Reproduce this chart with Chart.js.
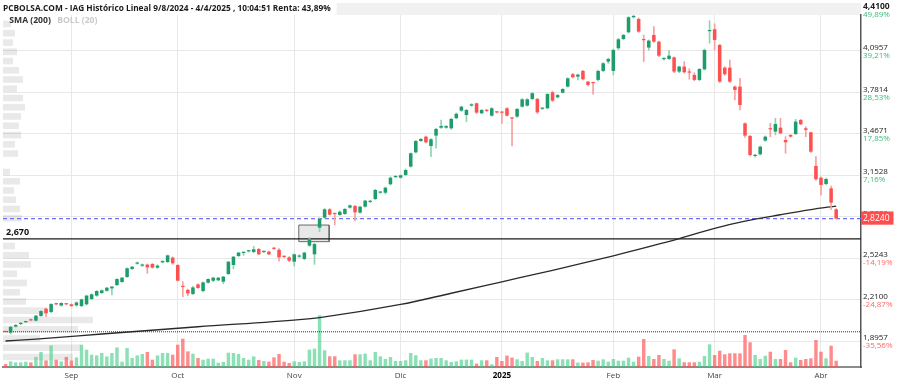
<!DOCTYPE html>
<html lang="es">
<head>
<meta charset="utf-8">
<title>IAG Histórico</title>
<script src="https://cdn.jsdelivr.net/npm/chart.js@4.4.1/dist/chart.umd.min.js"></script>
<style>
html,body{margin:0;padding:0;background:#fff;}
#c{display:block;}
</style>
</head>
<body>
<canvas id="c" width="902" height="386"></canvas>
<script>
// ---------------- DATA ----------------
const titleText = 'PCBOLSA.COM - IAG Histórico Lineal 9/8/2024 - 4/4/2025 , 10:04:51 Renta: 43,89%';
const legendLabels = ['SMA (200)', 'BOLL (20)'];

// daily candles, 14/8/2024 .. 4/4/2025 (index = trading day)
const opens = [1.968,1.959,2.005,2.025,2.038,2.058,2.050,2.086,2.141,2.116,
2.178,2.165,2.178,2.174,2.166,2.161,2.174,2.214,2.240,2.260,
2.277,2.295,2.320,2.343,2.381,2.442,2.482,2.467,2.475,2.480,
2.452,2.492,2.495,2.528,2.472,2.310,2.283,2.252,2.325,2.275,
2.338,2.353,2.356,2.346,2.404,2.472,2.540,2.563,2.575,2.571,
2.593,2.570,2.573,2.597,2.588,2.537,2.530,2.497,2.535,2.518,
2.619,2.553,2.755,2.831,2.894,2.862,2.851,2.859,2.907,2.919,
2.869,2.914,2.950,2.972,3.020,3.020,3.084,3.138,3.134,3.154,
3.218,3.326,3.412,3.445,3.374,3.453,3.513,3.513,3.508,3.585,
3.642,3.609,3.680,3.698,3.622,3.645,3.604,3.632,3.630,3.660,
3.586,3.597,3.672,3.680,3.731,3.731,3.656,3.660,3.781,3.743,
3.778,3.824,3.918,3.900,3.943,3.862,3.855,3.875,3.943,4.014,
3.943,4.115,4.185,4.236,4.350,4.337,4.180,4.120,4.216,4.165,
4.032,4.034,4.046,3.938,3.976,3.934,3.913,3.875,3.955,4.244,
4.259,4.140,3.968,3.968,3.824,3.824,3.546,3.450,3.298,3.311,
3.415,3.504,3.483,3.513,3.420,3.458,3.465,3.571,3.508,3.478,
3.223,3.134,3.086,3.053,2.894];
const highs = [1.972,2.008,2.022,2.035,2.046,2.064,2.090,2.126,2.146,2.180,
2.184,2.186,2.182,2.178,2.194,2.214,2.244,2.254,2.278,2.284,
2.302,2.310,2.368,2.378,2.450,2.462,2.495,2.480,2.480,2.484,
2.475,2.505,2.548,2.534,2.476,2.346,2.290,2.310,2.330,2.345,
2.368,2.380,2.378,2.386,2.500,2.538,2.568,2.572,2.585,2.614,
2.598,2.580,2.578,2.606,2.596,2.542,2.535,2.558,2.550,2.570,
2.682,2.636,2.830,2.900,2.900,2.866,2.882,2.900,2.928,2.924,
2.918,2.962,2.962,3.046,3.030,3.064,3.140,3.150,3.156,3.200,
3.322,3.416,3.432,3.450,3.430,3.508,3.571,3.530,3.585,3.625,
3.678,3.652,3.695,3.700,3.652,3.650,3.665,3.636,3.635,3.665,
3.590,3.660,3.733,3.734,3.780,3.735,3.665,3.772,3.790,3.765,
3.810,3.892,3.925,3.920,3.948,3.865,3.858,3.950,4.006,4.040,
4.110,4.190,4.220,4.355,4.366,4.345,4.215,4.178,4.279,4.170,
4.045,4.097,4.050,3.980,4.014,3.960,3.930,3.962,4.110,4.324,
4.300,4.145,3.975,4.026,3.830,3.887,3.550,3.455,3.310,3.374,
3.450,3.546,3.584,3.584,3.445,3.460,3.576,3.576,3.520,3.480,
3.293,3.140,3.130,3.071,2.900];
const lows = [1.960,1.949,2.000,2.020,2.034,2.048,2.046,2.082,2.080,2.110,
2.170,2.160,2.170,2.158,2.160,2.156,2.168,2.210,2.235,2.256,
2.272,2.245,2.316,2.340,2.378,2.438,2.478,2.460,2.409,2.448,
2.446,2.488,2.490,2.478,2.350,2.232,2.240,2.250,2.295,2.268,
2.334,2.345,2.352,2.330,2.400,2.442,2.536,2.545,2.570,2.566,
2.550,2.565,2.550,2.590,2.502,2.528,2.498,2.464,2.530,2.512,
2.612,2.477,2.725,2.826,2.850,2.775,2.848,2.855,2.903,2.806,
2.865,2.910,2.945,2.968,3.015,3.010,3.078,3.135,3.130,3.150,
3.214,3.320,3.408,3.398,3.293,3.357,3.508,3.508,3.500,3.580,
3.636,3.559,3.676,3.620,3.618,3.635,3.600,3.624,3.546,3.600,
3.374,3.590,3.668,3.675,3.725,3.620,3.650,3.655,3.710,3.738,
3.775,3.820,3.890,3.875,3.875,3.830,3.766,3.868,3.937,4.000,
3.913,4.105,4.180,4.230,4.345,4.235,4.014,4.100,4.160,4.052,
4.025,4.030,3.930,3.930,3.925,3.880,3.868,3.868,3.950,4.153,
4.102,3.855,3.910,3.855,3.723,3.647,3.440,3.298,3.290,3.305,
3.410,3.445,3.458,3.465,3.319,3.440,3.460,3.535,3.445,3.325,
3.115,3.003,3.080,2.894,2.822];
const closes = [1.964,2.004,2.017,2.030,2.042,2.052,2.088,2.123,2.106,2.176,
2.174,2.184,2.174,2.161,2.188,2.212,2.240,2.250,2.275,2.280,
2.300,2.308,2.366,2.376,2.447,2.459,2.490,2.475,2.454,2.452,
2.467,2.502,2.545,2.485,2.353,2.305,2.257,2.302,2.298,2.340,
2.366,2.376,2.376,2.384,2.497,2.535,2.566,2.568,2.581,2.591,
2.553,2.574,2.553,2.594,2.530,2.533,2.505,2.553,2.543,2.566,
2.667,2.631,2.823,2.894,2.854,2.858,2.876,2.897,2.924,2.871,
2.914,2.960,2.958,3.041,3.025,3.058,3.134,3.142,3.152,3.192,
3.319,3.412,3.427,3.402,3.425,3.503,3.526,3.525,3.579,3.618,
3.672,3.647,3.690,3.627,3.647,3.640,3.660,3.628,3.626,3.604,
3.582,3.655,3.728,3.728,3.774,3.629,3.660,3.768,3.718,3.760,
3.806,3.887,3.895,3.915,3.880,3.837,3.850,3.943,4.001,4.034,
4.102,4.183,4.216,4.350,4.360,4.241,4.176,4.173,4.165,4.059,
4.036,4.059,3.938,3.976,3.933,3.930,3.875,3.958,4.102,4.249,
4.178,3.862,3.918,3.862,3.799,3.685,3.453,3.306,3.302,3.369,
3.445,3.500,3.541,3.470,3.402,3.445,3.559,3.539,3.496,3.331,
3.122,3.079,3.124,2.945,2.824];
// daily volume (millions of shares, estimated)
const volumes = [3.0,5.6,4.6,4.6,5.3,4.6,10.0,15.0,6.6,21.6,
7.3,5.6,10.0,6.6,9.6,22.3,17.3,12.3,11.6,14.0,
10.6,14.0,19.6,5.3,19.0,9.0,11.6,13.0,15.0,7.3,
11.6,14.0,14.0,12.3,22.3,28.3,15.6,13.3,9.0,7.3,
8.3,8.3,4.3,5.0,14.3,14.0,13.0,9.0,7.3,10.6,
7.0,6.0,5.3,9.6,13.0,5.3,4.0,5.7,5.0,5.7,
17.4,18.4,51.7,16.7,10.7,10.7,6.7,6.7,6.7,12.7,
12.7,13.4,6.7,15.0,10.7,8.0,10.0,6.0,6.0,6.7,
14.0,11.7,6.7,6.7,8.4,9.0,9.0,6.7,5.0,5.7,
7.4,7.4,7.4,3.4,6.7,6.7,2.7,10.0,6.0,11.4,
9.4,7.7,6.0,14.4,10.0,6.0,9.0,6.7,6.7,7.7,
7.7,7.7,7.7,4.4,4.4,4.6,7.0,6.3,7.7,5.3,
8.0,6.3,6.3,9.3,5.3,10.3,28.0,11.0,8.0,12.0,
8.0,6.3,17.7,8.7,4.7,4.7,4.7,5.3,11.0,22.7,
12.0,16.3,12.7,13.7,13.7,13.7,32.0,24.7,12.0,8.0,
11.3,15.3,8.0,8.0,17.0,4.7,9.3,7.0,8.0,8.7,
27.0,15.3,8.7,21.3,6.3];

// SMA(200) read at a few days
const smaIdx = [0,6,19,38,58,62,78,88,98,108,115,120,133,140,146,153,159,164];
const smaVal = [1.896,1.911,1.949,2.004,2.058,2.074,2.173,2.258,2.345,2.432,2.495,2.542,2.672,2.750,2.804,2.853,2.892,2.919];

// volume-at-price profile (price level, relative volume)
const profilePrices = [1.775,1.845,1.915,1.985,2.055,2.126,2.196,2.266,2.336,2.406,2.476,2.546,2.616,2.686,2.756,2.827,2.897,2.967,3.037,3.107,3.177,3.247,3.317,3.387,3.457,3.528,3.598,3.668,3.738,3.808,3.878,3.948,4.018,4.088,4.158,4.229,4.299];
const profileVol = [70,78,37,75,90,43,23,17,24,14,28,26,12,0,0,19,17,13,11,17,7,0,15,12,18,16,18,22,20,14,20,16,10,14,10,12,8];

// x-axis month ticks (trading-day index of first session of each month)
const monthTickIdx = [13,34,57,78,98,120,140,161];
const monthTickLabels = ['Sep','Oct','Nov','Dic','2025','Feb','Mar','Abr'];

// price axis ticks
const priceTicks = [4.41,4.0957,3.7814,3.4671,3.1528,2.8386,2.5243,2.21,1.8957];
const priceTickLabels = ['4,4100','4,0957','3,7814','3,4671','3,1528','2,8386','2,5243','2,2100','1,8957'];
const pctTickLabels = ['49,89%','39,21%','28,53%','17,85%','7,16%','-3,52%','-14,19%','-24,87%','-35,56%'];

// reference levels
const lastPrice = 2.824, lastPriceLabel = '2,8240';
const supportLevel = 2.670, supportLabel = '2,670';
const lowLevel = 1.966;
const gapIdx = [57.9, 63.9];
const gapPrices = [2.649, 2.775];

// ---------------- CHART ----------------
const FONT = "'Open Sans', 'Noto Sans', sans-serif";
const xMin = -0.5, xMax = 168.9;
const yMin = 1.699, yMax = 4.367;
const idx = closes.map((_, i) => i);
const isUp = i => closes[i] >= opens[i];

const topBand = {
  id: 'topBand',
  beforeDraw(chart) {
    const {ctx, chartArea} = chart;
    ctx.save();
    ctx.font = 'bold 8.3px ' + FONT;
    const tw = ctx.measureText(titleText).width;
    const x0 = chartArea.left + tw + 6;
    ctx.fillStyle = '#f1f1f1';
    ctx.fillRect(x0, 3, chartArea.right - x0, chartArea.top - 3);
    ctx.restore();
  }
};
const legendOverlay = {
  id: 'legendOverlay',
  afterInit(chart) {
    const lg = chart.legend;
    if (!lg) return;
    const fit = lg.fit;
    lg.fit = function () { fit.call(this); this.height = 0; };
  },
  afterLayout(chart) {
    const lg = chart.legend;
    if (!lg) return;
    lg.top = chart.chartArea.top + 1;
    lg.height = 14;
    lg.bottom = lg.top + 14;
  }
};

const hline = (level) => [{x: xMin, y: level}, {x: xMax, y: level}];
const fixedTicks = (vals) => (s) => { s.ticks = vals.map(v => ({value: v})); };
const overlayAxis = (vals, labels, extra) => Object.assign({
  type: 'linear', position: 'left', min: yMin, max: yMax, bounds: 'data', beginAtZero: false,
  afterBuildTicks: fixedTicks(vals),
  afterFit: s => { s.width = 0; s.paddingTop = 0; s.paddingBottom = 0; s.paddingLeft = 0; s.paddingRight = 0; },
  grid: {display: false, drawTicks: false},
  border: {display: false}
}, extra, {ticks: Object.assign({mirror: true, crossAlign: 'near', autoSkip: false,
  callback: (v, i) => labels[i]}, extra.ticks)});

new Chart(document.getElementById('c'), {
  type: 'bar',
  data: {
    datasets: [
      { // candle bodies
        type: 'bar', label: 'IAG', order: 0, xAxisID: 'x', yAxisID: 'y',
        data: idx.map(i => ({x: i, y: [opens[i], closes[i]]})),
        backgroundColor: c => isUp(c.dataIndex) ? '#1f9c6c' : '#ff5050',
        barPercentage: 0.7, categoryPercentage: 1, grouped: false, minBarLength: 1.2
      },
      { // wicks
        type: 'bar', label: 'HL', order: 1, xAxisID: 'x', yAxisID: 'y',
        data: idx.map(i => ({x: i, y: [lows[i], highs[i]]})),
        backgroundColor: c => isUp(c.dataIndex) ? '#8fd3b2' : '#f7a0a0',
        barThickness: 1, grouped: false
      },
      { // SMA 200
        type: 'line', label: legendLabels[0], order: 2, xAxisID: 'x', yAxisID: 'y',
        data: smaIdx.map((x, k) => ({x, y: smaVal[k]})),
        borderColor: '#2a2a2a', borderWidth: 1.3, pointRadius: 0, cubicInterpolationMode: 'monotone', fill: false
      },
      {
        type: 'line', label: 'soporte', order: 3, xAxisID: 'x', yAxisID: 'y',
        data: hline(supportLevel), borderColor: '#1a1a1a', borderWidth: 1.2, pointRadius: 0, fill: false
      },
      {
        type: 'line', label: 'último', order: 3, xAxisID: 'x', yAxisID: 'y',
        data: hline(lastPrice), borderColor: '#6f6fff', borderWidth: 1.3, borderDash: [4, 3], pointRadius: 0, fill: false
      },
      {
        type: 'line', label: 'mínimo', order: 3, xAxisID: 'x', yAxisID: 'y',
        data: hline(lowLevel), borderColor: '#333', borderWidth: 1, borderDash: [1, 1], pointRadius: 0, fill: false
      },
      { // price gap box
        type: 'line', label: 'hueco', order: 4, xAxisID: 'x', yAxisID: 'y',
        data: [{x: gapIdx[0], y: gapPrices[0]}, {x: gapIdx[0], y: gapPrices[1]}, {x: gapIdx[1], y: gapPrices[1]},
               {x: gapIdx[1], y: gapPrices[0]}, {x: gapIdx[0], y: gapPrices[0]}],
        borderColor: '#6a6a6a', borderWidth: 1, backgroundColor: 'rgba(190,190,190,0.35)', fill: 'shape', pointRadius: 0, tension: 0
      },
      { // volume
        type: 'bar', label: 'Volumen', order: 5, xAxisID: 'x', yAxisID: 'yVol',
        data: idx.map(i => ({x: i, y: volumes[i]})),
        backgroundColor: c => isUp(c.dataIndex) ? 'rgba(70,205,135,0.62)' : 'rgba(255,85,85,0.68)',
        barPercentage: 0.68, categoryPercentage: 1, grouped: false
      },
      { // volume profile
        type: 'bar', label: 'Perfil', order: 6, indexAxis: 'y', xAxisID: 'xProf', yAxisID: 'yProf',
        data: profilePrices.map((p, k) => ({x: profileVol[k], y: p})),
        backgroundColor: 'rgba(0,0,0,0.085)', barPercentage: 0.72, categoryPercentage: 1, grouped: false
      }
    ]
  },
  options: {
    responsive: false, animation: false, devicePixelRatio: 1,
    layout: {padding: {left: 3, right: 0, top: 0, bottom: 0}},
    plugins: {
      title: {display: true, text: titleText, align: 'start', color: '#1a1a1a',
        font: {family: FONT, size: 8.3, weight: 'bold', lineHeight: 12 / 8.3}, padding: {top: 3, bottom: 0}},
      legend: {display: true, position: 'top', align: 'start',
        labels: {boxWidth: 2, boxHeight: 0, padding: 0, font: {family: FONT, size: 8.6, weight: 'bold'},
          generateLabels: () => legendLabels.map((t, k) => ({text: t, fontColor: k === 0 ? '#333' : '#cacaca',
            fillStyle: 'rgba(0,0,0,0)', strokeStyle: 'rgba(0,0,0,0)', lineWidth: 0, hidden: false, datasetIndex: 2}))}},
      tooltip: {enabled: false}
    },
    scales: {
      x: {
        type: 'linear', position: 'bottom', min: xMin, max: xMax, offset: false, bounds: 'data',
        afterBuildTicks: fixedTicks(monthTickIdx),
        afterFit: s => { s.height = 19; s.paddingLeft = 0; s.paddingRight = 0; },
        ticks: {autoSkip: false, maxRotation: 0, padding: 4,
          callback: v => monthTickLabels[monthTickIdx.indexOf(v)] || '',
          color: c => /^\d+$/.test(monthTickLabels[c.index] || '') ? '#000' : '#444',
          font: c => ({family: FONT, size: 8, weight: /^\d+$/.test(monthTickLabels[c.index] || '') ? 'bold' : 'normal'})},
        grid: {color: '#e8e8e8', drawTicks: false, offset: false},
        border: {display: true, color: '#8c8c8c', width: 2}
      },
      y: {
        type: 'linear', position: 'right', weight: 1, min: yMin, max: yMax, bounds: 'data', beginAtZero: false,
        afterBuildTicks: fixedTicks(priceTicks),
        afterFit: s => { s.width = 41; s.paddingTop = 0; s.paddingBottom = 0; },
        ticks: {autoSkip: false, padding: 2, labelOffset: -3, crossAlign: 'near', color: '#222',
          font: c => ({family: FONT, size: c.index === 0 ? 8.5 : 8, weight: c.index === 0 ? 'bold' : 'normal'}),
          callback: (v, i) => priceTickLabels[i]},
        grid: {color: c => c.index === 0 ? 'rgba(0,0,0,0)' : '#e8e8e8', drawTicks: false},
        border: {display: true, color: '#555', width: 1.5}
      },
      yPct: overlayAxis(priceTicks, pctTickLabels, {ticks: {padding: 860, labelOffset: 5,
        color: c => (pctTickLabels[c.index] || '').startsWith('-') ? '#ff6666' : '#3dba7c',
        font: {family: FONT, size: 8}}}),
      yNow: overlayAxis([lastPrice], [lastPriceLabel], {ticks: {padding: 860, z: 1, color: '#ffffff',
        showLabelBackdrop: true, backdropColor: '#ff4d4d', backdropPadding: {top: 2, bottom: 1, left: 2, right: 4},
        font: {family: FONT, size: 8.5}}}),
      yLbl: overlayAxis([supportLevel], [supportLabel], {ticks: {padding: 3, labelOffset: -6, color: '#111',
        font: {family: FONT, size: 9, weight: 'bold'}}}),
      yVol: {type: 'linear', display: false, min: 0, max: 352, beginAtZero: true},
      xProf: {type: 'linear', display: false, min: 0, max: 858, offset: false, grid: {offset: false}},
      yProf: {type: 'linear', display: false, min: yMin, max: yMax, beginAtZero: false, offset: false}
    }
  },
  plugins: [topBand, legendOverlay]
});
</script>
</body>
</html>
